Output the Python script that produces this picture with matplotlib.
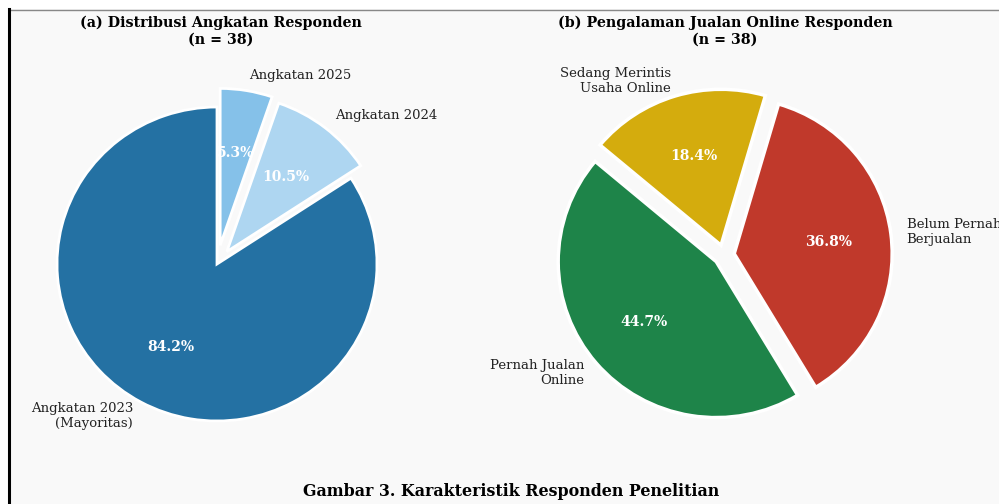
import matplotlib
matplotlib.use("Agg")
import matplotlib.pyplot as plt
from matplotlib.lines import Line2D

# (a) angkatan
angkatan_labels = ["Angkatan 2023\n(Mayoritas)", "Angkatan 2024", "Angkatan 2025"]
angkatan_counts = [32, 4, 2]
angkatan_colors = ["#2471a3", "#aed6f1", "#85c1e9"]

# (b) pengalaman jualan online
jualan_labels = ["Pernah Jualan\nOnline", "Belum Pernah\nBerjualan", "Sedang Merintis\nUsaha Online"]
jualan_counts = [17, 14, 7]
jualan_colors = ["#1e8449", "#c0392b", "#d4ac0d"]

plt.rcParams["font.family"] = "DejaVu Serif"
BG = "#f9f9f9"
W, H = 999, 504

fig = plt.figure(figsize=(W / 100, H / 100), dpi=100, facecolor="white")
# panel background + border (screenshot crop)
fig.patches.append(plt.Rectangle((9 / W, 0), 1, 1 - 9 / H, transform=fig.transFigure,
                                 facecolor=BG, edgecolor="none", zorder=-10))
fig.lines.append(Line2D([9 / W, 1], [1 - 9.5 / H] * 2, transform=fig.transFigure,
                        color="#888888", lw=1.0))
fig.lines.append(Line2D([9 / W] * 2, [0, 1 - 9 / H], transform=fig.transFigure,
                        color="black", lw=2.2))


def pie_axes(cx, cy, rx=160, ry=157):
    # place a pie axes so that radius 1 maps to rx/ry pixels, centre at (cx, cy) px from top-left
    w, h = 2.5 * rx, 2.5 * ry
    ax = fig.add_axes([(cx - w / 2) / W, (H - cy - h / 2) / H, w / W, h / H])
    ax.set_facecolor("none")
    return ax


def draw_pie(ax, counts, labels, colors, explode, startangle, lw=2):
    wedges, texts, autotexts = ax.pie(
        counts, labels=labels, colors=colors, explode=explode, startangle=startangle,
        autopct="%1.1f%%", pctdistance=0.6, labeldistance=1.1,
        wedgeprops=dict(edgecolor="white", linewidth=lw),
        textprops=dict(fontsize=9.5, color="#222222"))
    for t in autotexts:
        t.set_color("white"); t.set_fontweight("bold"); t.set_fontsize(10)
    ax.set_aspect("auto")
    ax.set_xlim(-1.25, 1.25); ax.set_ylim(-1.25, 1.25)
    return wedges


ax1 = pie_axes(217, 264)
draw_pie(ax1, angkatan_counts, angkatan_labels, angkatan_colors, (0, 0.1, 0.12), 90)
ax2 = pie_axes(724, 255, rx=158, ry=156)
draw_pie(ax2, jualan_counts, jualan_labels, jualan_colors, (0.065, 0.065, 0.065), 140, lw=2.5)

fig.text(221 / W, 1 - 31 / H, "(a) Distribusi Angkatan Responden\n(n = 38)", ha="center",
         va="center", fontsize=10.3, fontweight="bold", linespacing=1.2)
fig.text(725 / W, 1 - 31 / H, "(b) Pengalaman Jualan Online Responden\n(n = 38)", ha="center",
         va="center", fontsize=10.3, fontweight="bold", linespacing=1.2)
fig.text(511 / W, 1 - 492 / H, "Gambar 3. Karakteristik Responden Penelitian", ha="center",
         va="center", fontsize=11.4, fontweight="bold")

fig.savefig("out.png", dpi=100, facecolor="white")
